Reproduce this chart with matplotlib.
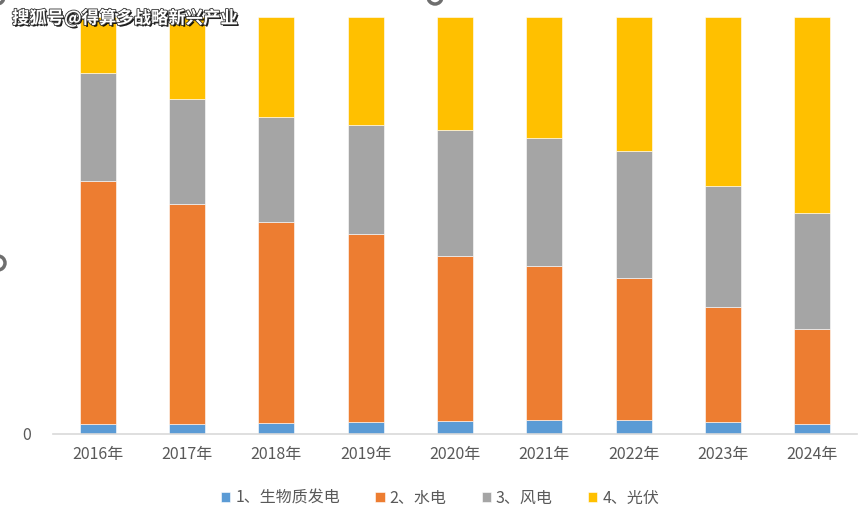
import numpy as np
import matplotlib
matplotlib.use("Agg")
import matplotlib.pyplot as plt
import matplotlib.patheffects as pe
from matplotlib.patches import Circle

plt.rcParams['font.family'] = ['Noto Sans CJK SC', 'DejaVu Sans']

# data (share of each source, %)
years = ['2016年', '2017年', '2018年', '2019年', '2020年', '2021年', '2022年', '2023年', '2024年']
names = ['1、生物质发电', '2、水电', '3、风电', '4、光伏']
biomass = [2.4, 2.4, 2.6, 2.9, 3.1, 3.3, 3.3, 2.9, 2.4]
hydro = [58.3, 52.8, 48.2, 45.1, 39.7, 36.9, 34.1, 27.6, 22.8]
wind = [25.9, 25.2, 25.2, 26.1, 30.0, 30.7, 30.5, 29.0, 27.8]
solar = [13.4, 19.6, 24.0, 25.9, 27.2, 29.1, 32.1, 40.5, 47.0]
colors = ['#5B9BD5', '#ED7D31', '#A5A5A5', '#FFC000']

fig = plt.figure(figsize=(8.65, 5.22), dpi=100)
ax = fig.add_axes([53 / 865, 88 / 522, 804 / 865, 417 / 522])

x = np.arange(len(years))
series = np.array([biomass, hydro, wind, solar], dtype=float)
series = series / series.sum(axis=0)   # 100% stacked
bottom = np.zeros(len(years))
for vals, name, c in zip(series, names, colors):
    ax.bar(x, vals, 0.4, bottom=bottom, color=c, label=name,
           edgecolor='white', linewidth=0.4)
    bottom += vals

ax.set_xlim(-0.5, 8.5)
ax.set_ylim(0, 1)
ax.set_xticks(x)
ax.set_xticklabels(years, fontsize=11.5, color='#595959')
ax.set_yticks([0])
ax.set_yticklabels(['0'], fontsize=11.5, color='#595959')
ax.tick_params(axis='both', length=0)
ax.tick_params(axis='x', pad=9)
ax.tick_params(axis='y', pad=16)
for s in ['top', 'right', 'left']:
    ax.spines[s].set_visible(False)
ax.spines['bottom'].set_color('#D9D9D9')
ax.spines['bottom'].set_linewidth(1.2)

fig.legend(loc='center', bbox_to_anchor=(440 / 865, 1 - 498 / 522), ncol=4,
           frameon=False, fontsize=11.5, handlelength=0.6, handleheight=0.6,
           handletextpad=0.3, columnspacing=2.2, labelcolor='#595959')

# watermark
fig.text(12 / 865, 1 - 18 / 522, '搜狐号@得算多战略新兴产业', fontsize=12.5,
         color='white', va='center', ha='left', fontweight='bold',
         path_effects=[pe.withSimplePatchShadow(offset=(1.2, -1.2), shadow_rgbFace='black', alpha=0.9),
                       pe.withStroke(linewidth=1.2, foreground='#333333')])

# selection handles at the edges of the screenshot
for cx, cy in [(-2, 263), (435, -3), (-3, -3)]:
    fig.patches.append(Circle((cx, 522 - cy), 7, transform=None, fill=False,
                              edgecolor='#6E6E6E', linewidth=2.5, figure=fig))

fig.savefig('out.png', dpi=100)
